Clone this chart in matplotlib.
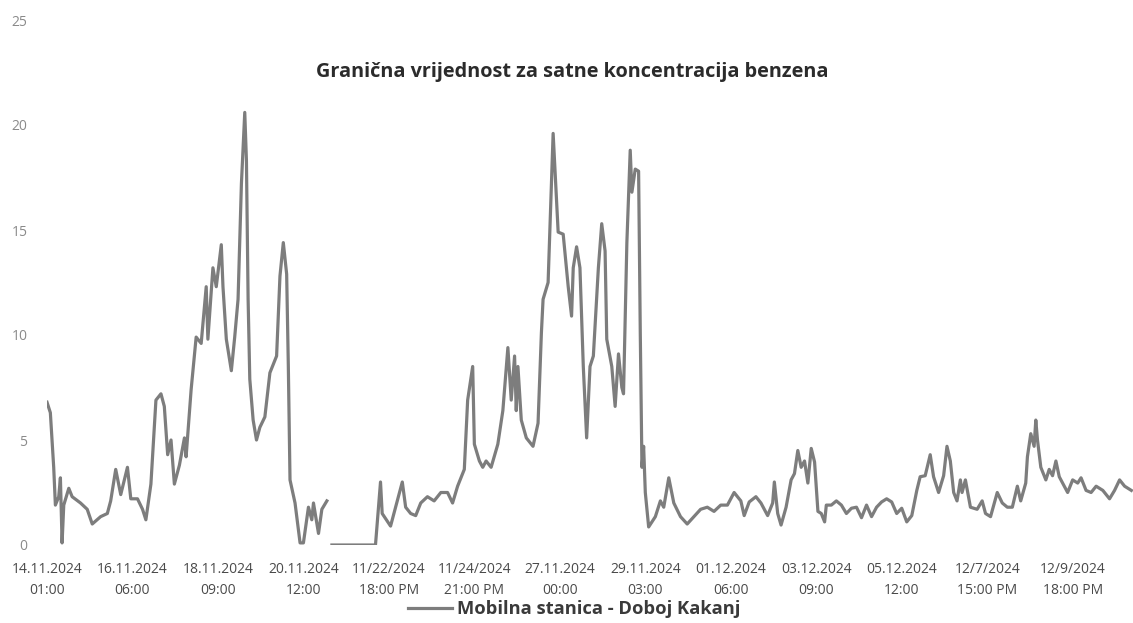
import numpy as np
import matplotlib
matplotlib.use("Agg")
import matplotlib.pyplot as plt

# hours since 14.11.2024 01:00 and benzene concentration
hours = [0, 2, 4, 5, 7, 8, 9, 10, 13, 15, 20, 24, 27, 32, 36, 38, 41, 44, 48, 50,
         54, 57, 59, 62, 65, 68, 70, 72, 74, 76, 79, 82, 83, 86, 89, 92, 95, 96, 99, 101,
         104, 105, 107, 110, 112, 114, 116, 118, 119, 120, 121, 123, 125, 127, 130, 133, 137, 139, 141, 143,
         144, 145, 148, 151, 153, 156, 158, 159, 162, 164, 167, 168, 170, 196, 199, 200, 205, 208, 212, 214,
         217, 220, 223, 227, 231, 235, 239, 242, 245, 249, 251, 254, 255, 258, 260, 262, 265, 269, 272, 275,
         277, 279, 280, 281, 283, 286, 290, 293, 295, 296, 299, 300, 302, 304, 305, 308, 311, 313, 314, 316,
         318, 320, 322, 324, 326, 329, 331, 333, 334, 337, 339, 341, 343, 344, 346, 348, 349, 351, 353, 354,
         355, 356, 357, 359, 363, 366, 368, 371, 374, 378, 382, 386, 390, 394, 398, 402, 406, 410, 414, 416,
         419, 423, 426, 430, 433, 434, 436, 438, 441, 444, 446, 448, 450, 452, 454, 456, 458, 460, 462, 464,
         465, 468, 471, 474, 477, 480, 483, 486, 489, 492, 495, 498, 501, 504, 507, 510, 513, 516, 519, 521,
         524, 527, 529, 532, 535, 537, 539, 541, 543, 545, 546, 548, 551, 555, 558, 560, 563, 567, 570, 573,
         576, 579, 581, 584, 585, 587, 589, 590, 591, 593, 596, 598, 600, 602, 604, 607, 609, 612, 615, 617,
         620, 623, 626, 630, 634, 637, 640, 643, 647]
benzene = [6.8, 6.3, 3.7, 1.9, 2.3, 3.2, 0.1, 1.9, 2.7, 2.3, 2.0, 1.7, 1.0, 1.35, 1.5, 2.1, 3.6, 2.4, 3.7, 2.2,
           2.2, 1.7, 1.2, 2.9, 6.9, 7.2, 6.6, 4.3, 5.0, 2.9, 3.8, 5.1, 4.2, 7.4, 9.9, 9.6, 12.3, 9.8, 13.2, 12.3,
           14.3, 12.3, 9.8, 8.3, 9.9, 11.7, 17.2, 20.6, 18.3, 11.7, 7.9, 5.95, 5.0, 5.6, 6.1, 8.2, 9.0, 12.8, 14.4, 12.9,
           8.5, 3.1, 2.0, 0.1, 0.1, 1.8, 1.2, 2.0, 0.55, 1.7, 2.1, np.nan, 0.0, 0.0, 3.0, 1.5, 0.9, 1.8, 3.0, 1.8,
           1.5, 1.4, 2.0, 2.3, 2.1, 2.5, 2.5, 2.0, 2.8, 3.6, 6.9, 8.5, 4.8, 4.0, 3.7, 4.0, 3.7, 4.8, 6.4, 9.4,
           6.9, 9.0, 6.4, 8.5, 5.95, 5.1, 4.7, 5.8, 10.1, 11.7, 12.5, 14.9, 19.6, 16.4, 14.9, 14.8, 12.3, 10.9, 13.2, 14.2,
           13.2, 8.5, 5.1, 8.5, 9.0, 13.2, 15.3, 14.0, 9.8, 8.5, 6.6, 9.1, 7.5, 7.2, 14.4, 18.8, 16.8, 17.9, 17.8, 10.1,
           3.7, 4.7, 2.5, 0.86, 1.35, 2.1, 1.8, 3.2, 2.0, 1.35, 1.0, 1.35, 1.7, 1.8, 1.6, 1.9, 1.9, 2.5, 2.1, 1.4,
           2.05, 2.3, 2.0, 1.4, 2.0, 3.0, 1.5, 0.95, 1.8, 3.1, 3.4, 4.5, 3.7, 4.0, 2.95, 4.6, 3.95, 1.6, 1.5, 1.1,
           1.9, 1.9, 2.1, 1.9, 1.5, 1.75, 1.8, 1.3, 1.9, 1.35, 1.8, 2.05, 2.2, 2.05, 1.5, 1.75, 1.1, 1.4, 2.6, 3.25,
           3.3, 4.3, 3.25, 2.5, 3.3, 4.7, 4.0, 2.5, 2.1, 3.1, 2.5, 3.1, 1.8, 1.7, 2.1, 1.5, 1.35, 2.5, 2.0, 1.8,
           1.8, 2.8, 2.1, 2.95, 4.2, 5.3, 4.7, 5.95, 5.0, 3.7, 3.1, 3.6, 3.3, 4.0, 3.25, 2.8, 2.5, 3.1, 2.95, 3.2,
           2.6, 2.5, 2.8, 2.6, 2.2, 2.6, 3.1, 2.8, 2.6]

tick_pos = [0, 51, 102, 153, 204, 255, 306, 357, 408, 459, 510, 561, 612]
tick_labels = ["14.11.2024\n01:00", "16.11.2024\n06:00", "18.11.2024\n09:00",
               "20.11.2024\n12:00", "11/22/2024\n18:00 PM", "11/24/2024\n21:00 PM",
               "27.11.2024\n00:00", "29.11.2024\n03:00", "01.12.2024\n06:00",
               "03.12.2024\n09:00", "05.12.2024\n12:00", "12/7/2024\n15:00 PM",
               "12/9/2024\n18:00 PM"]
y_ticks = [0, 5, 10, 15, 20, 25]

plt.rcParams["font.family"] = ["Open Sans", "DejaVu Sans"]

fig = plt.figure(figsize=(11.33, 6.23), dpi=100)
ax = fig.add_axes([47 / 1133, 78 / 623, 1 - 47 / 1133, 525 / 623])

ax.plot(hours, benzene, color="#7d7d7d", linewidth=2.3,
        label="Mobilna stanica - Doboj Kakanj")

ax.set_xlim(0, 648)
ax.set_ylim(0, 25)
ax.set_yticks(y_ticks)
ax.set_xticks(tick_pos)
ax.set_xticklabels(tick_labels, fontsize=10, color="#4a4a4a", linespacing=1.6)
ax.tick_params(axis="y", labelsize=10, labelcolor="#8a8a8a", length=0, pad=14)
ax.tick_params(axis="x", length=0, pad=12)
for s in ax.spines.values():
    s.set_visible(False)

fig.text(572 / 1133, 1 - 72 / 623, "Granična vrijednost za satne koncentracija benzena",
         ha="center", va="center", fontsize=14.3, fontweight="bold", color="#2b2b2b")

fig.legend(loc="center", bbox_to_anchor=(574 / 1133, 1 - 609 / 623), frameon=False,
           handlelength=2.4, handletextpad=0.3,
           prop={"size": 13.2, "weight": "bold"}, labelcolor="#3a3a3a")

fig.savefig("out.png", dpi=100)
